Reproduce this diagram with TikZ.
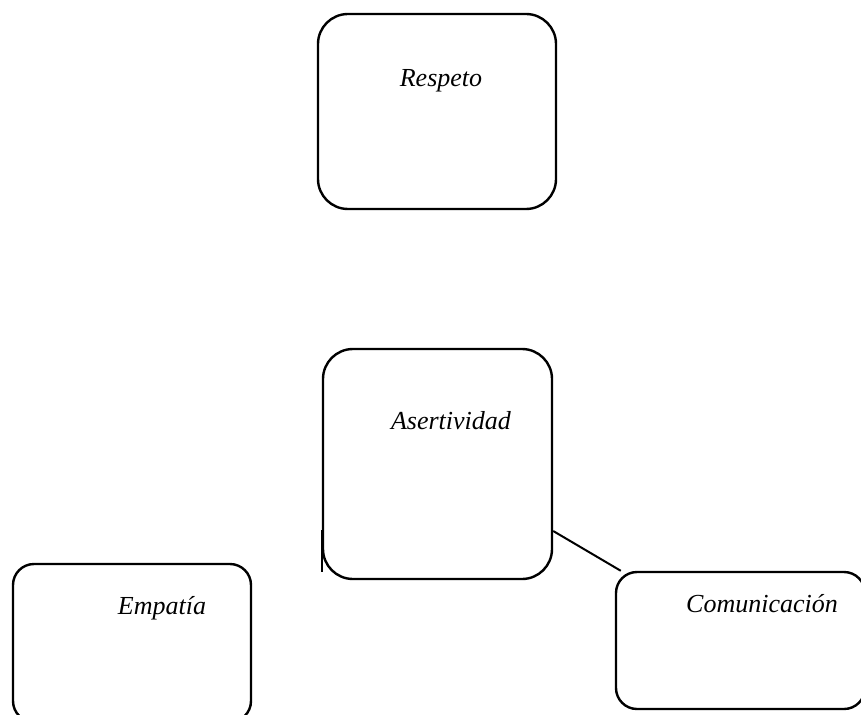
\documentclass[tikz,border=0pt]{standalone}
\usepackage{fontspec}
\setmainfont{Liberation Serif}
\tikzstyle{valuebox}=[draw, line width=2.4pt, rounded corners=30pt, inner sep=0pt]
\tikzstyle{smallbox}=[valuebox, rounded corners=21pt]
\tikzstyle{valuename}=[font=\fontsize{26}{30}\selectfont\itshape, inner sep=0pt, anchor=base]
\tikzstyle{link}=[line width=2pt]

\begin{document}
\begin{tikzpicture}[x=1pt,y=-1pt]
\useasboundingbox (0,0) rectangle (861,714);

% boxes
\node[valuebox, minimum width=238pt, minimum height=195pt] (respeto) at (437,111.5) {};
\node[valuebox, minimum width=229pt, minimum height=230pt] (aser) at (437.5,464) {};
\node[smallbox, minimum width=238pt, minimum height=158pt] (empatia) at (132,643) {};
\node[smallbox, minimum width=249pt, minimum height=137pt] (comunic) at (740.5,640.5) {};

% names
\node[valuename] (respetoname) at (441,87) {Respeto};
\node[valuename] (asername) at (451,429) {Asertividad};
\node[valuename] (empatianame) at (162,614) {Empatía};
\node[valuename] (comunicname) at (762,612.5) {Comunicación};

\draw[link] ([yshift=-67pt]aser.east) -- ([xshift=6pt]comunic.north west);
\draw[link] (322,530) -- (322,572);
\end{tikzpicture}
\end{document}
